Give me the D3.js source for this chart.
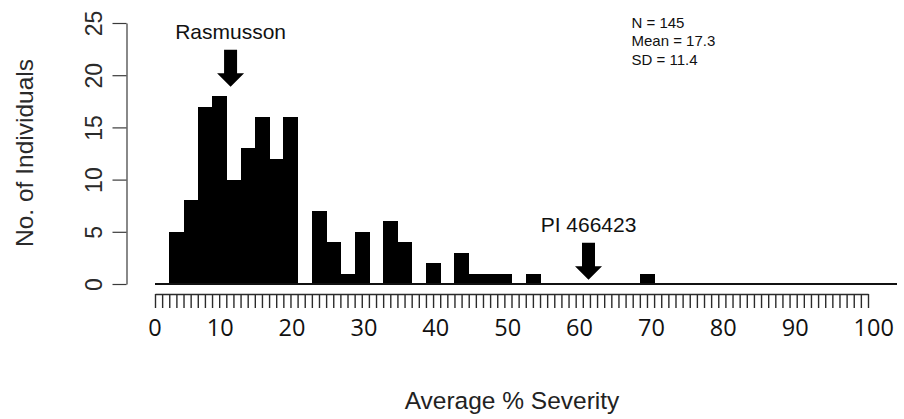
<!DOCTYPE html>
<html>
<head>
<meta charset="utf-8">
<script src="https://cdn.jsdelivr.net/npm/d3@7"></script>
<style>
  body { margin: 0; background: #fff; }
  svg { display: block; }
</style>
</head>
<body>
<div id="chart"></div>
<script>
// histogram bins (left edge, width 2) and counts
const binStarts = [2, 4, 6, 8, 10, 12, 14, 16, 18, 20, 22, 24, 26, 28, 30, 32, 34,
                   36, 38, 40, 42, 44, 46, 48, 50, 52, 54, 56, 58, 60, 62, 64, 66, 68];
const counts    = [5, 8, 17, 18, 10, 13, 16, 12, 16, 0, 7, 4, 1, 5, 0, 6, 4,
                   0, 2, 0, 3, 1, 1, 1, 0, 1, 0, 0, 0, 0, 0, 0, 0, 1];
const binWidth = 2;

const yTicks = [0, 5, 10, 15, 20, 25];
const xTickLabels = [0, 10, 20, 30, 40, 50, 60, 70, 80, 90, 100];

// marker arrows
const arrowLabels = ["Rasmusson", "PI 466423"];
const arrowValues = [10.6, 60.8];
const arrowTips   = [18.9, 0.4];

const statsLines = ["N = 145", "Mean = 17.3", "SD = 11.4"];

const width = 904, height = 419;

const svg = d3.select("#chart").append("svg")
    .attr("width", width)
    .attr("height", height);

const x = d3.scaleLinear().domain([0, 100]).range([155, 868]);
const y = d3.scaleLinear().domain([0, 25]).range([284, 23]);

// bars
const bins = binStarts.map((b, i) => ({ x0: b, x1: b + binWidth, n: counts[i] }));

svg.append("g")
    .attr("shape-rendering", "crispEdges")
    .selectAll("rect")
    .data(bins.filter(d => d.n > 0))
    .enter()
    .append("rect")
    .attr("x", d => x(d.x0))
    .attr("y", d => y(d.n))
    .attr("width", d => x(d.x1) - x(d.x0) + 0.6)
    .attr("height", d => y(0) - y(d.n))
    .attr("fill", "#000");

// baseline under the bars
svg.append("line")
    .attr("x1", x(0))
    .attr("x2", 897)
    .attr("y1", y(0))
    .attr("y2", y(0))
    .attr("stroke", "#111")
    .attr("stroke-width", 2);

// y axis, R style with rotated labels
const yAxis = svg.append("g")
    .attr("transform", "translate(126.5,0)")
    .call(d3.axisLeft(y).tickValues(yTicks).tickSize(14).tickSizeOuter(0));

yAxis.selectAll("path, line").attr("stroke", "#3a3a3a").attr("stroke-width", 1.2);
yAxis.selectAll("text")
    .attr("x", null)
    .attr("dy", null)
    .attr("transform", "translate(-25,0) rotate(-90)")
    .attr("text-anchor", "middle")
    .attr("fill", "#2a2a2a")
    .style("font-family", "'Liberation Sans', Arial, sans-serif")
    .style("font-size", "23px");

// ruler-like x axis, one tick per unit
const xAxis = svg.append("g")
    .attr("transform", "translate(0,294)")
    .call(d3.axisBottom(x).tickValues(d3.range(0, 101)).tickSize(14).tickSizeOuter(0).tickFormat(""));

xAxis.selectAll("path, line").attr("stroke", "#2a2a2a").attr("stroke-width", 1.4);

// x labels: one run of text with equal gaps, as in the original
const labelFont = 23.5;
const digitW = 0.572 * labelFont;
const labelGap = 45;

const xLabels = svg.append("text")
    .attr("y", 336)
    .attr("fill", "#111")
    .style("font-family", "'Open Sans', sans-serif")
    .style("font-size", labelFont + "px");

xLabels.selectAll("tspan")
    .data(xTickLabels)
    .enter()
    .append("tspan")
    .attr("x", (d, i) => i === 0 ? x(0) - digitW / 2 : null)
    .attr("dx", (d, i) => i === 0 ? null : labelGap)
    .text(d => d);

// axis titles
svg.append("text")
    .attr("transform", "translate(33,153) rotate(-90)")
    .attr("text-anchor", "middle")
    .attr("fill", "#2a2a2a")
    .style("font-family", "'Liberation Sans', Arial, sans-serif")
    .style("font-size", "24.5px")
    .text("No. of Individuals");

svg.append("text")
    .attr("x", 512)
    .attr("y", 409)
    .attr("text-anchor", "middle")
    .attr("fill", "#222")
    .style("font-family", "'Liberation Sans', Arial, sans-serif")
    .style("font-size", "24.5px")
    .text("Average % Severity");

// arrows with labels
const arrowLen = 37, headH = 13.5, headW = 27, shaftW = 13;

const arrows = svg.append("g").selectAll("g")
    .data(arrowLabels.map((l, i) => ({ label: l, v: arrowValues[i], tip: arrowTips[i] })))
    .enter()
    .append("g")
    .attr("transform", d => `translate(${x(d.v)},${y(d.tip)})`);

arrows.append("path")
    .attr("d", `M0,0 L${-headW / 2},${-headH} L${-shaftW / 2},${-headH} L${-shaftW / 2},${-arrowLen}
                L${shaftW / 2},${-arrowLen} L${shaftW / 2},${-headH} L${headW / 2},${-headH} Z`)
    .attr("fill", "#000");

arrows.append("text")
    .attr("y", -arrowLen - 11)
    .attr("text-anchor", "middle")
    .attr("fill", "#111")
    .style("font-family", "'Liberation Sans', Arial, sans-serif")
    .style("font-size", "21px")
    .text(d => d.label);

// summary stats
svg.append("g").selectAll("text")
    .data(statsLines)
    .enter()
    .append("text")
    .attr("x", 631.5)
    .attr("y", (d, i) => 27.5 + i * 18.5)
    .attr("fill", "#111")
    .style("font-family", "'Liberation Sans', Arial, sans-serif")
    .style("font-size", "15px")
    .text(d => d);
</script>
</body>
</html>
